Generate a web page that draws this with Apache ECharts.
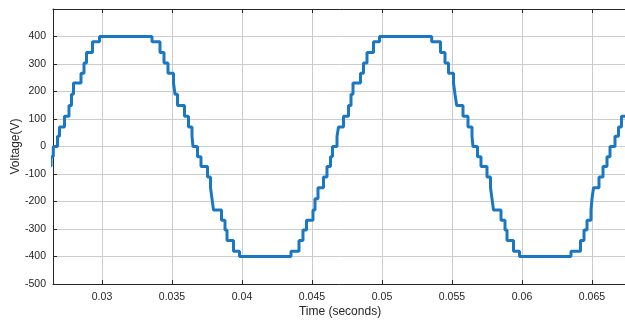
<!DOCTYPE html>
<html>
<head>
<meta charset="utf-8">
<script src="https://cdn.jsdelivr.net/npm/echarts@6/dist/echarts.min.js"></script>
<style>
html,body{margin:0;padding:0;background:#fff;overflow:hidden;}
#chart{width:625px;height:324px;}
</style>
</head>
<body>
<div id="chart"></div>
<script>
// Step breakpoints: at each time the voltage switches to the given level
var times = [
  0.025571, 0.026357, 0.026521, 0.026821, 0.026964, 0.027321, 0.027643, 0.027821, 0.027964, 0.0285,
  0.028714, 0.028893, 0.029321, 0.029821,
  0.033571, 0.034143, 0.034429, 0.034714, 0.035107, 0.035214, 0.035393, 0.035893, 0.036179, 0.036429, 0.0365,
  0.036821, 0.037071, 0.037536, 0.03775, 0.037857, 0.037964, 0.038536, 0.038786, 0.038929, 0.039393, 0.039821,
  0.0435, 0.044071, 0.044357, 0.044607, 0.045071, 0.045214, 0.045429, 0.045821, 0.046071, 0.046321, 0.046464,
  0.046786, 0.046893, 0.04725, 0.047607, 0.047786, 0.047929, 0.048464, 0.048679, 0.048929, 0.049393, 0.049821,
  0.05355, 0.054179, 0.0545, 0.05475, 0.055107, 0.055214, 0.055336, 0.055786, 0.056143, 0.056429, 0.0565,
  0.056821, 0.057071, 0.0575, 0.05775, 0.057857, 0.057964, 0.0585, 0.058786, 0.058929, 0.059393, 0.059821,
  0.0635, 0.064179, 0.064429, 0.064643, 0.064929, 0.065, 0.065107, 0.0655, 0.065786, 0.066071, 0.066286,
  0.066643, 0.066893, 0.067107, 0.06843
];
var voltage = [
  -71, -37, 0, 37, 71, 110, 149, 190, 231, 266,
  304, 342, 381, 400,
  381, 342, 304, 266, 231, 190, 149, 110, 71, 37, 0,
  -37, -73, -111, -150, -190, -231, -268, -304, -342, -381, -400,
  -381, -342, -304, -268, -231, -190, -150, -111, -73, -37, 0,
  37, 71, 110, 149, 190, 231, 266, 304, 342, 381, 400,
  381, 342, 304, 266, 231, 190, 149, 110, 71, 37, 0,
  -37, -73, -111, -150, -190, -231, -268, -304, -342, -381, -400,
  -381, -342, -304, -268, -231, -190, -150, -111, -73, -37, 0,
  37, 71, 110, 149
];
var xMin = 0.0265, xMax = 0.0675;
var yMin = -500, yMax = 500, yStep = 100;
var xTitle = 'Time (seconds)';
var yTitle = 'Voltage(V)';

var data = times.map(function (t, i) { return [t, voltage[i]]; });

var chart = echarts.init(document.getElementById('chart'), null, {renderer: 'canvas', width: 625, height: 324});
var axisColor = '#262626';
var font = 'Liberation Sans, Arial, Helvetica, sans-serif';
chart.setOption({
  animation: false,
  backgroundColor: '#ffffff',
  grid: {left: 53, top: 9, width: 574, height: 275, containLabel: false, outerBoundsMode: 'none'},
  xAxis: [{
    type: 'value', min: xMin, max: xMax, splitNumber: 8,
    minInterval: 0.005, maxInterval: 0.005,
    position: 'bottom',
    name: xTitle, nameLocation: 'middle', nameGap: 22, nameMoveOverlap: false,
    nameTextStyle: {color: axisColor, fontSize: 12, fontFamily: font},
    axisLine: {show: true, onZero: false, lineStyle: {color: axisColor, width: 1}},
    axisTick: {show: true, inside: true, length: 4, lineStyle: {color: axisColor}},
    axisLabel: {color: axisColor, fontSize: 10.5, fontFamily: font, margin: 8,
      showMinLabel: false, showMaxLabel: false},
    splitLine: {show: true, lineStyle: {color: '#cccccc', width: 1}}
  }, {
    type: 'value', min: xMin, max: xMax, splitNumber: 8,
    minInterval: 0.005, maxInterval: 0.005,
    position: 'top',
    axisLine: {show: true, onZero: false, lineStyle: {color: axisColor, width: 1}},
    axisTick: {show: true, inside: true, length: 4, lineStyle: {color: axisColor}},
    axisLabel: {show: false},
    splitLine: {show: false}
  }],
  yAxis: [{
    type: 'value', min: yMin, max: yMax, interval: yStep,
    name: yTitle, nameLocation: 'middle', nameGap: 31, nameRotate: 90, nameMoveOverlap: false,
    nameTextStyle: {color: axisColor, fontSize: 12, fontFamily: font},
    axisLine: {show: true, onZero: false, lineStyle: {color: axisColor, width: 1}},
    axisTick: {show: true, inside: true, length: 4, lineStyle: {color: axisColor}},
    axisLabel: {color: axisColor, fontSize: 10.5, fontFamily: font, margin: 7, showMaxLabel: false},
    splitLine: {show: true, lineStyle: {color: '#cccccc', width: 1}}
  }],
  series: [{
    type: 'line',
    data: data,
    step: 'end',
    showSymbol: false,
    clip: true,
    lineStyle: {color: '#1a78c2', width: 3},
    xAxisIndex: 0, yAxisIndex: 0
  }]
});
</script>
</body>
</html>
